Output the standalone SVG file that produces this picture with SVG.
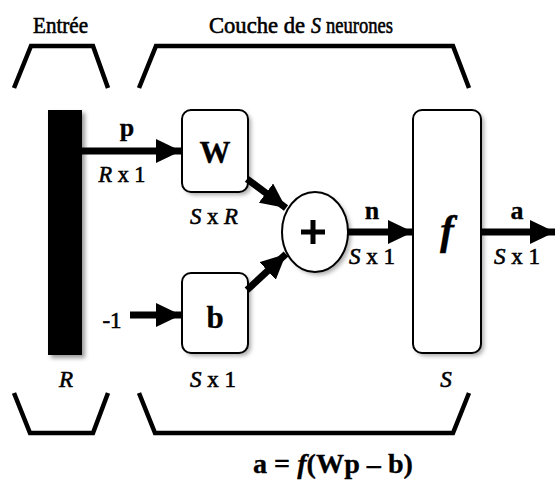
<svg xmlns="http://www.w3.org/2000/svg" width="555" height="485" viewBox="0 0 555 485">
<defs>
<style>
.br{fill:none;stroke:#000;stroke-width:4.5;stroke-linejoin:miter}
.box{fill:#fff;stroke:#000;stroke-width:2}
.ln{stroke:#000;stroke-width:7;fill:none}
.t{font-family:"Liberation Serif","Times New Roman",serif;fill:#000;stroke:#000;stroke-width:0.6}
.b{font-weight:bold;stroke-width:0.3}
.i{font-style:italic}
.u{font-style:normal}
</style>
<filter id="sh" x="-20%" y="-20%" width="150%" height="150%">
<feGaussianBlur stdDeviation="2"/>
</filter>
<marker id="ah" markerUnits="userSpaceOnUse" markerWidth="26" markerHeight="24" refX="25" refY="12" orient="auto">
<path d="M0,0 L25,12 L0,24 z" fill="#000"/>
</marker>
</defs>
<rect width="555" height="485" fill="#fff"/>

<g id="labels-top">
<text class="t" x="33" y="33" font-size="24" textLength="55" lengthAdjust="spacingAndGlyphs">Entrée</text>
<text class="t" x="209" y="33" font-size="24" textLength="96" lengthAdjust="spacingAndGlyphs">Couche de</text>
<text class="t i" x="311" y="33" font-size="24" textLength="10" lengthAdjust="spacingAndGlyphs">S</text>
<text class="t" x="326" y="33" font-size="24" textLength="67" lengthAdjust="spacingAndGlyphs">neurones</text>
</g>

<g id="brackets">
<polyline class="br" points="14,88 31,46 93,46 108,88"/>
<polyline class="br" points="139,88 156,46 453,46 469,88"/>
<polyline class="br" points="14,393 30,433 93,433 108,393"/>
<polyline class="br" points="139,393 155,433 453,433 469,393"/>
</g>

<g id="input">
<rect x="51" y="113" width="34" height="245" fill="#999" filter="url(#sh)"/>
<rect x="48" y="110" width="34" height="245" fill="#000"/>
<text class="t i" x="66" y="387" font-size="23" text-anchor="middle">R</text>
</g>

<g id="W">
<rect x="185" y="113" width="66" height="82" rx="9" fill="#aaa" filter="url(#sh)"/>
<rect class="box" x="182" y="110" width="66" height="82" rx="9"/>
<text class="t b" x="215" y="163" font-size="31" text-anchor="middle">W</text>
<text class="t i" x="214" y="224" font-size="23" text-anchor="middle" textLength="48" lengthAdjust="spacingAndGlyphs">S <tspan class="u">x</tspan> R</text>
</g>

<g id="bnode">
<rect x="185" y="276" width="66" height="80" rx="9" fill="#aaa" filter="url(#sh)"/>
<rect class="box" x="182" y="273" width="66" height="80" rx="9"/>
<text class="t b" x="215" y="328" font-size="31" text-anchor="middle">b</text>
<text class="t i" x="213" y="387" font-size="23" text-anchor="middle" textLength="46" lengthAdjust="spacingAndGlyphs">S <tspan class="u">x 1</tspan></text>
</g>

<g id="sum">
<ellipse cx="318" cy="235" rx="33" ry="40" fill="#aaa" filter="url(#sh)"/>
<ellipse cx="315" cy="232" rx="33" ry="40" fill="#fff" stroke="#000" stroke-width="2"/>
<path d="M301,232 H325 M313,220 V244" stroke="#000" stroke-width="5"/>
</g>

<g id="f">
<rect x="416" y="113" width="68" height="243" rx="9" fill="#aaa" filter="url(#sh)"/>
<rect class="box" x="413" y="110" width="68" height="243" rx="9"/>
<text class="t b i" x="447" y="244" font-size="42" text-anchor="middle">f</text>
<text class="t i" x="446" y="387" font-size="23" text-anchor="middle">S</text>
</g>

<g id="connectors">
<line class="ln" x1="82" y1="151" x2="181" y2="151" marker-end="url(#ah)"/>
<line class="ln" x1="130" y1="315" x2="181" y2="315" marker-end="url(#ah)"/>
<line class="ln" x1="247" y1="179" x2="286" y2="208" marker-end="url(#ah)"/>
<line class="ln" x1="247" y1="290" x2="286" y2="254" marker-end="url(#ah)"/>
<line class="ln" x1="348" y1="232" x2="413" y2="232" marker-end="url(#ah)"/>
<line class="ln" x1="481" y1="232" x2="555" y2="232" marker-end="url(#ah)"/>
</g>

<g id="edge-labels">
<text class="t b" x="127" y="136" font-size="26" text-anchor="middle">p</text>
<text class="t i" x="122" y="182" font-size="23" text-anchor="middle" textLength="47" lengthAdjust="spacingAndGlyphs">R <tspan class="u">x 1</tspan></text>
<text class="t" x="112" y="328" font-size="23" text-anchor="middle">-1</text>
<text class="t b" x="372" y="219" font-size="26" text-anchor="middle">n</text>
<text class="t i" x="372" y="264" font-size="23" text-anchor="middle" textLength="46" lengthAdjust="spacingAndGlyphs">S <tspan class="u">x 1</tspan></text>
<text class="t b" x="517" y="219" font-size="26" text-anchor="middle">a</text>
<text class="t i" x="517" y="264" font-size="23" text-anchor="middle" textLength="46" lengthAdjust="spacingAndGlyphs">S <tspan class="u">x 1</tspan></text>
</g>

<g id="formula">
<text class="t b" x="333" y="473" font-size="27" text-anchor="middle" textLength="160" lengthAdjust="spacingAndGlyphs">a = <tspan class="i">f</tspan>(Wp – b)</text>
</g>
</svg>
